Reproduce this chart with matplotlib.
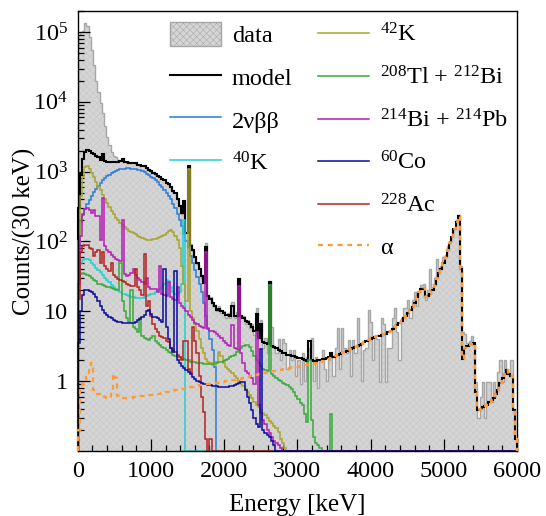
import numpy as np
import matplotlib
matplotlib.use('Agg')
import matplotlib.pyplot as plt
from matplotlib.lines import Line2D
from matplotlib.patches import Patch
from matplotlib.ticker import FixedLocator, FuncFormatter, MultipleLocator, LogLocator, NullFormatter

plt.rcParams['font.family'] = ['Liberation Serif', 'DejaVu Serif']
plt.rcParams['mathtext.fontset'] = 'custom'
plt.rcParams['mathtext.rm'] = 'Liberation Serif'
plt.rcParams['mathtext.it'] = 'Liberation Serif:italic'
plt.rcParams['mathtext.bf'] = 'Liberation Serif:bold'
plt.rcParams['hatch.linewidth'] = 0.35

# 30 keV bins from 0 to 6000 keV
bin_width = 30
edges = np.arange(0, 6000 + bin_width, bin_width)
nbins = len(edges) - 1

data = [
    9.0e4, 1.0e5, 1.05e5, 1.35e5, 1.2e5, 8.5e4, 5.5e4, 3.4e4, 2.0e4, 1.4e4,
    9.5e3, 7.0e3, 4.5e3, 3.1e3, 2.4e3, 1.9e3, 1.7e3, 1.6e3, 1.45e3, 1.45e3,
    1560, 1400, 1330, 1370, 1330, 1350, 1290, 1280, 1220, 1200,
    1230, 1100, 1100, 990, 980, 900, 880, 830, 790, 750,
    700, 640, 610, 520, 500, 390, 330, 250, 380, 135,
    1250, 92, 72, 60, 47, 42, 30, 26, 95, 17,
    16, 12, 12.5, 10, 12, 9.5, 10, 8, 9.5, 8,
    13.7, 8, 9.8, 30, 8, 8.5, 6.5, 7.6, 5.8, 6.5,
    4.6, 11, 4.0, 7.5, 3.0, 4.2, 2.5, 27, 6.0, 3.0,
    2.5, 4.0, 2.0, 4.0, 3.5, 1.5, 2.8, 2.0, 2.8, 1.2,
    2.0, 0.9, 2.5, 1.0, 2.2, 3.0, 4.2, 1.0, 2.2, 0.8,
    2.0, 2.8, 1.5, 1.0, 2.0, 2.6, 1.2, 3.0, 5.7, 1.5,
    5.7, 3.0, 2.5, 3.9, 1.2, 3.9, 2.5, 7.9, 3.5, 1.0,
    2.8, 3.0, 10.4, 7.1, 2.0, 4.1, 4.0, 0.98, 7.9, 6.5,
    0.98, 3.0, 3.0, 7.9, 11, 5.0, 2.0, 8.0, 11, 11,
    14.5, 7.9, 14.5, 19, 12, 19, 24, 25, 14.5, 20,
    41, 22, 30, 57, 40, 45, 60, 65, 85, 100,
    120, 150, 200, 240, 45, 5.1, 4.8, 3.5, 3.8, 4.5,
    3.5, 0.98, 0.3, 0.6, 0.98, 0.3, 0.98, 0.98, 0.5, 0.98,
    0.7, 1.36, 2.0, 0.98, 2.0, 1.5, 1.3, 2.0, 0.4, 0.15,
]

bb2nu = [
    100, 190, 240, 290, 340, 390, 450, 510, 570, 630,
    690, 750, 810, 860, 910, 950, 990, 1030, 1060, 1085,
    1100, 1110, 1115, 1115, 1110, 1100, 1085, 1065, 1040, 1010,
    975, 935, 890, 845, 800, 750, 700, 650, 600, 550,
    500, 450, 400, 350, 300, 250, 205, 165, 130, 100,
    80, 62, 49, 39, 31, 25, 19, 13, 8.5, 5.7,
    4.0, 2.8, 1.6,
]

k40 = [
    35, 50, 55, 57, 57, 54, 50, 46, 42, 39,
    36, 33, 30, 28, 26, 24, 22, 21, 20, 19,
    18, 17.5, 17, 16.5, 16, 16, 15.5, 15.5, 15.5, 15.5,
    16, 16.5, 17, 17.5, 18, 19, 20, 21, 22.5, 25,
    28, 27, 22, 19, 18, 18, 19, 25, 200,
]

k42 = [
    100, 450, 850, 1150, 1200, 1100, 960, 850, 720, 610,
    540, 470, 410, 355, 310, 275, 245, 220, 200, 182,
    170, 160, 150, 143, 137, 132, 126, 120, 115, 111,
    108, 106, 106, 106, 107, 109, 112, 116, 120, 125,
    132, 142, 148, 135, 120, 105, 80, 45, 25, 14,
    1100, 10, 8, 6.5, 5.2, 4.0, 3.0, 2.5, 2.1, 1.9,
    1.8, 1.7, 1.7, 1.9, 2.6, 2.3, 1.8, 1.6, 1.5, 1.4,
    1.3, 1.2, 1.1, 1.0, 0.92, 0.85, 0.78, 0.70, 0.63, 0.57,
    0.5, 0.45, 0.42, 0.38, 0.35, 0.33, 0.3, 0.27, 0.25, 0.23,
    0.21, 0.19, 0.15, 0.13, 0.11,
]

tl208_bi212 = [
    28, 34, 35, 34, 33, 32, 30, 28, 27, 25,
    25, 24, 23, 22.5, 22, 21.5, 21, 20.5, 20, 50,
    14, 10, 8, 7, 20, 6, 5.5, 5.0, 8, 4.5,
    4.2, 4.0, 3.9, 4.2, 4.4, 3.8, 3.5, 3.3, 3.1, 3.0,
    2.8, 2.6, 2.5, 2.4, 2.3, 2.2, 2.2, 2.1, 2.1, 2.0,
    2.0, 1.9, 1.9, 1.85, 1.8, 1.8, 1.8, 1.75, 1.75, 1.75,
    1.75, 1.75, 1.8, 1.8, 1.85, 1.9, 1.95, 2.0, 2.1, 2.2,
    2.3, 2.4, 2.6, 2.8, 3.0, 3.2, 3.3, 3.3, 3.1, 2.7,
    2.3, 2.0, 1.8, 1.65, 1.5, 1.45, 1.4, 24, 1.25, 1.2,
    1.1, 1.05, 1.0, 0.95, 0.9, 0.87, 0.82, 0.76, 0.7, 0.62,
    0.55, 0.48, 0.45, 0.34, 0.26, 2.0, 0.28, 0.16, 0.13, 0.12,
    0.11, 0.1, 0.1, 0.1, 0.1, 0.34,
]

bi214_pb214 = [
    25, 120, 250, 290, 300, 280, 260, 280, 230, 230,
    105, 420, 85, 75, 70, 65, 60, 56, 54, 52,
    204, 34, 32, 33, 35, 40, 33, 30, 28, 26,
    25, 30, 22, 21, 21, 21, 19, 44, 18, 17,
    16.5, 26, 16, 15, 14.5, 22, 13, 12, 11, 10,
    9, 8.4, 7.5, 6.9, 6.5, 6.2, 6, 5.8, 70, 5.5,
    5.3, 5.2, 5, 4.8, 4.4, 4.1, 3.8, 3.5, 3.3, 3.2,
    6.4, 3.0, 2.9, 23, 2.5, 1.8, 1.4, 1.3, 1.2, 1.1,
    0.9, 5.1, 0.45, 0.35, 0.28, 0.24, 0.2, 0.18, 0.16, 0.14,
    0.13, 0.12, 0.11,
]

co60 = [
    3.5, 10, 17, 20, 20, 19.5, 19, 17.5, 16, 14,
    12, 10.5, 9.6, 8.9, 8.4, 8, 7.6, 7.3, 7.1, 7,
    6.9, 6.8, 6.7, 6.7, 6.8, 6.9, 7.1, 7.4, 7.8, 8.3,
    9.0, 10, 10.4, 9.2, 8.4, 8.2, 8.0, 7.5, 7.0, 40,
    6.0, 4.0, 3.0, 2.6, 38, 2.0, 1.8, 1.65, 1.55, 1.45,
    1.35, 1.25, 1.15, 1.08, 1.02, 0.98, 0.95, 0.92, 0.9, 0.88,
    0.87, 0.86, 0.85, 0.84, 0.83, 0.83, 0.83, 0.83, 0.83, 0.84,
    0.85, 0.87, 0.9, 0.93, 0.96, 0.98, 0.75, 0.6, 0.48, 0.38,
    0.3, 0.24, 0.22, 2.9, 0.2, 0.18, 0.17, 0.16, 0.14, 0.12,
    0.1,
]

ac228 = [
    15, 70, 85, 89, 88, 80, 78, 62, 70, 76,
    50, 70, 44, 40, 38, 50, 33, 31, 29, 28,
    27, 26, 25, 24, 23, 23, 40, 22, 20, 17,
    67, 12, 14, 8.5, 6.5, 5.5, 5.0, 4.5, 4.3, 4.1,
    3.8, 3.6, 3.0, 2.8, 2.6, 2.4, 2.2, 2.0, 3.7, 3.7,
    1.5, 1.3, 6.0, 3.7, 2.5, 1.2, 0.6, 0.36, 0.15, 0.1,
    0.15, 0.09,
]

alpha = [
    0.2, 0.8, 0.9, 1.0, 1.3, 1.7, 1.8, 0.75, 0.7, 0.66,
    0.63, 0.61, 0.6, 0.58, 0.57, 0.7, 1.25, 1.1, 0.62, 0.58,
    0.57, 0.57, 0.57, 0.58, 0.58, 0.59, 0.6, 0.6, 0.61, 0.62,
    0.62, 0.63, 0.63, 0.64, 0.64, 0.65, 0.65, 0.66, 0.67, 0.68,
    0.69, 0.7, 0.72, 0.73, 0.74, 0.75, 0.76, 0.77, 0.78, 0.8,
    0.81, 0.82, 0.83, 0.84, 0.86, 0.87, 0.88, 0.89, 0.9, 0.9,
    0.91, 0.92, 0.93, 0.94, 0.95, 0.96, 0.98, 1.0, 1.01, 1.03,
    1.04, 1.05, 1.06, 1.08, 1.09, 1.11, 1.13, 1.15, 1.17, 1.19,
    1.22, 1.24, 1.26, 1.28, 1.3, 1.32, 1.34, 1.36, 1.38, 1.4,
    1.42, 1.44, 1.45, 1.47, 1.5, 1.52, 1.55, 1.57, 1.6, 1.61,
    1.62, 1.64, 1.66, 1.68, 1.70, 1.72, 1.75, 1.78, 1.82, 1.86,
    1.9, 1.95, 2.0, 2.05, 2.1, 2.15, 2.2, 2.3, 2.4, 2.48,
    2.55, 2.63, 2.72, 2.82, 2.92, 3.0, 3.1, 3.2, 3.3, 3.45,
    3.6, 3.75, 3.9, 4.0, 4.1, 4.25, 4.4, 4.5, 4.6, 4.7,
    4.8, 5.0, 5.3, 5.6, 5.9, 6.3, 6.8, 7.3, 7.9, 8.6,
    9.4, 10.3, 11.5, 13, 16, 19, 21, 21.5, 16, 16.5,
    18, 20, 24, 30, 35, 41, 50, 60, 75, 95,
    115, 150, 190, 230, 40, 2.1, 3.0, 3.2, 3.3, 3.4,
    3.5, 0.7, 0.38, 0.40, 0.42, 0.44, 0.46, 0.5, 0.54, 0.58,
    0.65, 0.75, 0.95, 1.1, 1.25, 1.45, 1.25, 1.2, 0.38, 0.15,
]


def full(values):
    v = np.asarray(values, dtype=float)
    return np.pad(v, (0, nbins - len(v)))


# drawing order (60Co last so it lies on top along the floor)
components = {
    '2vbb': (bb2nu, '#2b7bd9', '2νββ'),
    'K40': (k40, '#20d0d0', r'$^{\mathrm{40}}$K'),
    'K42': (k42, '#a8a52a', r'$^{\mathrm{42}}$K'),
    'Tl208': (tl208_bi212, '#3aa83a', r'$^{\mathrm{208}}$Tl + $^{\mathrm{212}}$Bi'),
    'Bi214': (bi214_pb214, '#b51db5', r'$^{\mathrm{214}}$Bi + $^{\mathrm{214}}$Pb'),
    'Ac228': (ac228, '#b52222', r'$^{\mathrm{228}}$Ac'),
    'Co60': (co60, '#0a0a9c', r'$^{\mathrm{60}}$Co'),
}
alpha_color = '#ff9a38'

model = sum(full(v) for v, _, _ in components.values()) + full(alpha)

ymin, ymax = 0.1, 2e5

fig = plt.figure(figsize=(5.46, 5.16), dpi=100)
ax = fig.add_axes([0.1423, 0.126, 0.8046, 0.8527])
ax.set_yscale('log')
ax.set_xlim(0, 6000)
ax.set_ylim(ymin, ymax)

# measured spectrum: hatched grey fill plus a grey outline
data_arr = np.asarray(data, dtype=float)
ax.stairs(data_arr, edges, baseline=1e-3, fill=True, facecolor='#d5d5d5',
          edgecolor='#c4c4c4', hatch='xxxxx', linewidth=0, zorder=1)
ax.stairs(data_arr, edges, baseline=ymin, color='#a6a6a6', linewidth=1.0, zorder=1.2)

# model = sum of all fitted components
ax.stairs(np.clip(model, ymin, None), edges, baseline=ymin, color='black',
          linewidth=1.5, zorder=2, clip_on=False)

for values, color, _ in components.values():
    ax.stairs(np.clip(full(values), ymin, None), edges, baseline=ymin, color=color,
              linewidth=1.1, zorder=2.2, clip_on=False)

ax.stairs(np.clip(full(alpha), ymin, None), edges, baseline=ymin, color=alpha_color,
          linewidth=1.6, linestyle=(0, (2.2, 2.2)), zorder=2.6, clip_on=False)

# axes styling
ax.xaxis.set_major_locator(MultipleLocator(1000))
ax.xaxis.set_minor_locator(MultipleLocator(200))
ax.yaxis.set_major_locator(FixedLocator([1, 10, 1e2, 1e3, 1e4, 1e5]))
ax.yaxis.set_minor_locator(LogLocator(base=10, subs=np.arange(2, 10), numticks=30))
ax.yaxis.set_minor_formatter(NullFormatter())


def decade_label(y, pos):
    if y == 1:
        return '1'
    if y == 10:
        return '10'
    return r'$10^{%d}$' % int(round(np.log10(y)))


ax.yaxis.set_major_formatter(FuncFormatter(decade_label))
ax.tick_params(which='both', direction='in', top=False, right=False, width=0.9,
               labelsize=17.5)
ax.tick_params(which='major', length=8.5)
ax.tick_params(which='minor', length=4)
ax.tick_params(axis='x', pad=7)
ax.tick_params(axis='y', pad=7)
for sp in ax.spines.values():
    sp.set_linewidth(1.0)

ax.set_xlabel('Energy [keV]', fontsize=18, labelpad=9)
ax.set_ylabel('Counts/(30 keV)', fontsize=18, labelpad=-2)

# two-column legend
h1 = [Patch(facecolor='#d5d5d5', edgecolor='#a6a6a6', hatch='xxxxx', linewidth=1.0),
      Line2D([], [], color='black', lw=1.5)]
l1 = ['data', 'model']
for key in ['2vbb', 'K40']:
    _, c, lab = components[key]
    h1.append(Line2D([], [], color=c, lw=1.1))
    l1.append(lab)
leg1 = ax.legend(h1, l1, loc='upper left', bbox_to_anchor=(0.21, 0.976),
                 frameon=False, fontsize=17.5, handlelength=2.1, handleheight=1.2,
                 handletextpad=0.45, labelspacing=0.7, borderpad=0, borderaxespad=0)
ax.add_artist(leg1)

h2, l2 = [], []
for key in ['K42', 'Tl208', 'Bi214', 'Co60', 'Ac228']:
    _, c, lab = components[key]
    h2.append(Line2D([], [], color=c, lw=1.1))
    l2.append(lab)
h2.append(Line2D([], [], color=alpha_color, lw=1.6, linestyle=(0, (2.2, 2.2))))
l2.append('α')
ax.legend(h2, l2, loc='upper left', bbox_to_anchor=(0.547, 0.971),
          frameon=False, fontsize=17.5, handlelength=2.1, handleheight=0.7,
          handletextpad=0.45, labelspacing=0.8, borderpad=0, borderaxespad=0)

fig.savefig('out.png', dpi=100)
